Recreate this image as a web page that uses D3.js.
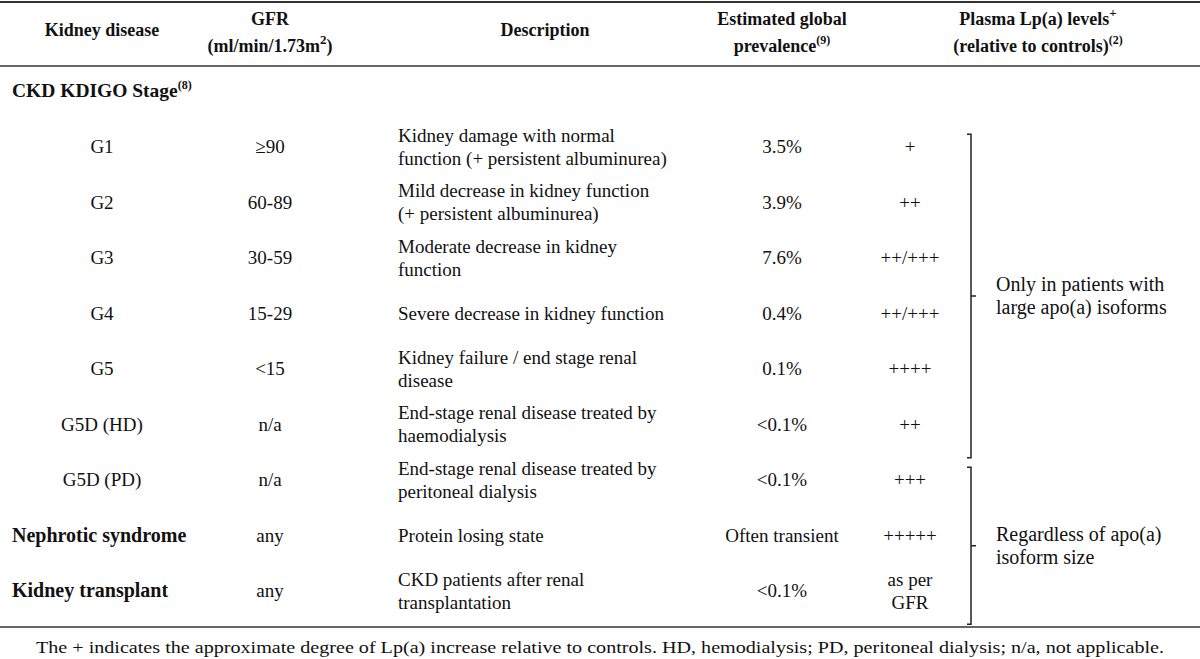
<!DOCTYPE html>
<html><head><meta charset="utf-8">
<script src="https://cdn.jsdelivr.net/npm/d3@7"></script>
<style>
html,body{margin:0;padding:0;background:#fff;}
svg{display:block;font-family:"Liberation Serif","Times New Roman",serif;}
</style></head>
<body>
<svg id="c" width="1200" height="659"></svg>
<script>
// ---- data ----
const diseases = ["G1","G2","G3","G4","G5","G5D (HD)","G5D (PD)","Nephrotic syndrome","Kidney transplant"];
const diseaseBold = [false,false,false,false,false,false,false,true,true];
const gfr = ["≥90","60-89","30-59","15-29","<15","n/a","n/a","any","any"];
const descriptions = [
  ["Kidney damage with normal","function (+ persistent albuminurea)"],
  ["Mild decrease in kidney function","(+ persistent albuminurea)"],
  ["Moderate decrease in kidney","function"],
  ["Severe decrease in kidney function"],
  ["Kidney failure / end stage renal","disease"],
  ["End-stage renal disease treated by","haemodialysis"],
  ["End-stage renal disease treated by","peritoneal dialysis"],
  ["Protein losing state"],
  ["CKD patients after renal","transplantation"]
];
const prevalence = ["3.5%","3.9%","7.6%","0.4%","0.1%","<0.1%","<0.1%","Often transient","<0.1%"];
const lpaLevels = [["+"],["++"],["++/+++"],["++/+++"],["++++"],["++"],["+++"],["+++++"],["as per","GFR"]];
const groups = [
  {from:0, to:5, text:["Only in patients with","large apo(a) isoforms"]},
  {from:6, to:8, text:["Regardless of apo(a)","isoform size"]}
];
const headers = [
  {key:"disease", lines:[["Kidney disease"]]},
  {key:"gfr", lines:[["GFR"],["(ml/min/1.73m","2",")"]]},
  {key:"desc", lines:[["Description"]]},
  {key:"prev", lines:[["Estimated global"],["prevalence","(9)"]]},
  {key:"lpa", lines:[["Plasma Lp(a) levels","+"],["(relative to controls)","(2)"]]}
];
const sectionTitle = ["CKD KDIGO Stage","(8)"];
const footnote = "The + indicates the approximate degree of Lp(a) increase relative to controls. HD, hemodialysis; PD, peritoneal dialysis; n/a, not applicable.";

// ---- layout ----
const W = 1200, H = 659;
const svg = d3.select("#c");
const fs = 19, hfs = 18, lh = 23;
const colX = d3.scaleOrdinal()
  .domain(["disease","gfr","desc","prev","lpa","hdrDesc","hdrLpa","note"])
  .range([102, 270, 398, 782, 910, 545, 1038, 996]);
const rowY = d3.scalePoint().domain(d3.range(diseases.length)).range([147, 591]);
const step = rowY.step();

// rules
const rules = [{y:2, w:2}, {y:66, w:1.5}, {y:627, w:1.5}];
svg.selectAll("line.rule").data(rules).join("line").attr("class","rule")
  .attr("x1",0).attr("x2",W).attr("y1",d=>d.y).attr("y2",d=>d.y)
  .attr("stroke","#333").attr("stroke-width",d=>d.w);

// header
const hdrX = {disease:colX("disease"), gfr:colX("gfr"), desc:colX("hdrDesc"), prev:colX("prev"), lpa:colX("hdrLpa")};
headers.forEach(h => {
  const n = h.lines.length;
  h.lines.forEach((parts, i) => {
    const y = n === 1 ? 36 : 25 + i * 27;
    const t = svg.append("text").attr("x", hdrX[h.key]).attr("y", y)
      .attr("text-anchor","middle").attr("font-weight","bold").attr("font-size",hfs).attr("fill","#111");
    parts.forEach((p, j) => {
      if (j === 0) t.append("tspan").text(p);
      else if (j === 1) t.append("tspan").attr("font-size", p.length > 1 ? 12 : 13).attr("dy",-8).text(p);
      else t.append("tspan").attr("font-size",hfs).attr("dy",8).text(p);
    });
  });
});

// section title
const st = svg.append("text").attr("x",12).attr("y",97).attr("font-weight","bold").attr("font-size",19.5).attr("fill","#111");
st.append("tspan").text(sectionTitle[0]);
st.append("tspan").attr("font-size",12).attr("dy",-8).text(sectionTitle[1]);

// rows
const rows = svg.selectAll("g.row").data(diseases).join("g").attr("class","row")
  .attr("transform",(d,i)=>`translate(0,${rowY(i)})`);

function multiline(sel, linesFn, x, anchor) {
  sel.append("text").attr("x", x).attr("text-anchor", anchor).attr("font-size", fs).attr("fill","#111")
    .each(function(d,i){
      const lines = linesFn(d,i);
      const t = d3.select(this);
      const y0 = -(lines.length - 1) * lh / 2 + 6;
      lines.forEach((l, k) => t.append("tspan").attr("x", x).attr("y", y0 + k * lh).text(l));
    });
}

rows.append("text")
  .attr("x",(d,i)=>diseaseBold[i] ? 12 : colX("disease"))
  .attr("text-anchor",(d,i)=>diseaseBold[i] ? "start" : "middle")
  .attr("font-weight",(d,i)=>diseaseBold[i] ? "bold" : "normal")
  .attr("font-size",(d,i)=>diseaseBold[i] ? 20 : fs)
  .attr("y",6).attr("fill","#111").text(d=>d);
rows.append("text").attr("x",colX("gfr")).attr("text-anchor","middle").attr("y",6)
  .attr("font-size",fs).attr("fill","#111").text((d,i)=>gfr[i]);
multiline(rows, (d,i)=>descriptions[i], colX("desc"), "start");
rows.append("text").attr("x",colX("prev")).attr("text-anchor","middle").attr("y",6)
  .attr("font-size",fs).attr("fill","#111").text((d,i)=>prevalence[i]);
multiline(rows, (d,i)=>lpaLevels[i], colX("lpa"), "middle");

// brackets
const bx = 971;
const bg = svg.selectAll("g.bracket").data(groups).join("g").attr("class","bracket");
const span = g => {
  const y1 = rowY(g.from) - step*0.23, y2 = rowY(g.to) + step*0.6;
  return [y1, y2, (y1 + y2) / 2];
};
bg.append("path")
  .attr("d", g => {
    const [y1, y2, ym] = span(g);
    return `M${bx-4},${y1}H${bx}V${y2}H${bx-4}M${bx},${ym}H${bx+5}`;
  })
  .attr("fill","none").attr("stroke","#222").attr("stroke-width",1.5);
bg.append("text").attr("x",colX("note")).attr("font-size",20).attr("fill","#111")
  .each(function(g){
    const [, , ym] = span(g);
    const t = d3.select(this);
    g.text.forEach((l,k)=>t.append("tspan").attr("x",colX("note")).attr("y", ym - 5 + k*lh).text(l));
  });

// footnote
svg.append("text").attr("x",W/2).attr("y",653).attr("text-anchor","middle")
  .attr("font-size",17).attr("fill","#111")
  .attr("textLength",1128).attr("lengthAdjust","spacingAndGlyphs").text(footnote);
</script>
</body></html>
